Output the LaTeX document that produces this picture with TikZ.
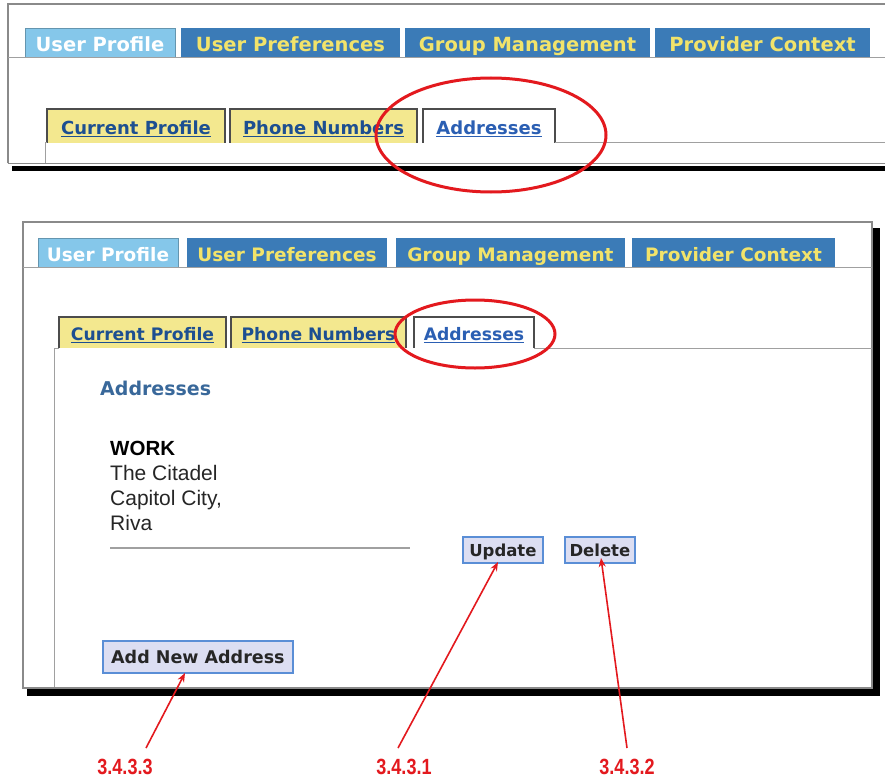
\documentclass[tikz,border=0pt]{standalone}
\usepackage{fontspec}
\setmainfont{Liberation Sans}
\newfontfamily\dv{DejaVu Sans}
\usetikzlibrary{arrows.meta}
\definecolor{tabl}{HTML}{85C7EA}
\definecolor{tabd}{HTML}{3B7BB7}
\definecolor{tabtxt}{HTML}{F2E36A}
\definecolor{subyel}{HTML}{F3E88F}
\definecolor{lnk}{HTML}{1D4F91}
\definecolor{lnktwo}{HTML}{2B5FB3}
\definecolor{headc}{HTML}{39689A}
\definecolor{btnf}{HTML}{DCDEF2}
\definecolor{btnb}{HTML}{5A8ED6}
\definecolor{redc}{HTML}{E3191E}
\definecolor{frameg}{HTML}{8A8A8A}
\definecolor{lineg}{HTML}{A0A0A0}
\tikzset{
  tabbase/.style={anchor=north west, inner sep=0pt, outer sep=0pt},
  lighttab/.style={tabbase, fill=tabl, text=white},
  darktab/.style={tabbase, fill=tabd, text=tabtxt},
  subtab/.style={tabbase, fill=subyel, text=lnk},
  curtab/.style={tabbase, fill=white, text=lnktwo},
  tabedge/.style={draw=black!70, line width=1.2pt},
  ring/.style={draw=redc, line width=3pt},
  btn/.style={anchor=north west, fill=btnf, draw=btnb, line width=1.8pt, inner sep=0pt,
     font=\dv\bfseries\fontsize{16.5}{16}\selectfont, text=black!85, text height=14pt, text depth=1.5pt},
  addr/.style={anchor=base west, inner sep=0pt, text=black!85, font=\fontsize{21}{21}\selectfont},
  lbl/.style={text=redc, font=\bfseries\fontsize{22}{22}\selectfont, inner sep=0pt},
  arr/.style={draw=redc, line width=1.6pt, -{Stealth[length=9pt,width=7pt]}}
}
\begin{document}
\begin{tikzpicture}[x=1pt,y=-1pt]
\useasboundingbox (0,0) rectangle (885,778);
\clip (0,0) rectangle (885,778);
\fill[white] (0,0) rectangle (885,778);

% ===== top panel =====
\fill[black] (12,166) rectangle (885,171);
\fill[white] (8,4) rectangle (885,163);
\draw[frameg, line width=1.5pt] (8,163.5) -- (8,4) -- (885,4);
\draw[frameg, line width=1pt] (8,163.5) -- (885,163.5);
\draw[lineg, line width=1pt] (8,57.5) -- (885,57.5);

\begin{scope}[every node/.append style={font=\dv\bfseries\fontsize{19.5}{20}\selectfont, text height=19.5pt, text depth=1pt}]
\node[lighttab, minimum width=150pt, minimum height=29pt] (ta1) at (25,28) {User Profile};
\node[darktab, minimum width=219pt, minimum height=29pt] (ta2) at (181,28) {User Preferences};
\node[darktab, minimum width=245pt, minimum height=29pt] (ta3) at (405,28) {Group Management};
\node[darktab, minimum width=215pt, minimum height=29pt] (ta4) at (655,28) {Provider Context};
\end{scope}
\draw[tabl!75!black, line width=0.8pt] (ta1.south west) |- (ta1.north east) -- (ta1.south east);

\begin{scope}[every node/.append style={font=\dv\bfseries\fontsize{18}{18}\selectfont, text height=18.5pt, text depth=2pt}]
\node[subtab, minimum width=178pt, minimum height=34pt] (sa1) at (47,109) {\underline{Current Profile}};
\node[subtab, minimum width=187pt, minimum height=34pt] (sa2) at (230,109) {\underline{Phone Numbers}};
\node[curtab, minimum width=132pt, minimum height=34pt] (sa3) at (423,109) {\underline{Addresses}};
\end{scope}
\draw[tabedge] (sa1.south west) |- (sa1.north east) -- (sa1.south east);
\draw[tabedge] (sa2.south west) |- (sa2.north east) -- (sa2.south east);
\draw[tabedge] (sa3.south west) |- (sa3.north east) -- (sa3.south east);
\draw[lineg, line width=1pt] (sa3.south east) -- (885,143);
\draw[lineg, line width=1pt] (45,163) -- (45,143) -- (sa1.south west);

\draw[ring] (491,135) ellipse [x radius=115, y radius=57];

% ===== bottom panel =====
\fill[black] (873,228) rectangle (880,696);
\fill[black] (27,689) rectangle (880,696);
\filldraw[fill=white, draw=frameg, line width=1.5pt] (23,222) rectangle (872,688);
\draw[lineg, line width=1pt] (23,267.5) -- (872,267.5);

\begin{scope}[every node/.append style={font=\dv\bfseries\fontsize{18.5}{19}\selectfont, text height=19pt, text depth=1pt}]
\node[lighttab, minimum width=140pt, minimum height=29pt] (tb1) at (38,238) {User Profile};
\node[darktab, minimum width=200pt, minimum height=29pt] (tb2) at (187,238) {User Preferences};
\node[darktab, minimum width=229pt, minimum height=29pt] (tb3) at (396,238) {Group Management};
\node[darktab, minimum width=203pt, minimum height=29pt] (tb4) at (632,238) {Provider Context};
\end{scope}
\draw[tabl!75!black, line width=0.8pt] (tb1.south west) |- (tb1.north east) -- (tb1.south east);

\begin{scope}[every node/.append style={font=\dv\bfseries\fontsize{17.2}{18}\selectfont, text height=17.5pt, text depth=2pt}]
\node[subtab, minimum width=167pt, minimum height=31pt] (sb1) at (59,317) {\underline{Current Profile}};
\node[subtab, minimum width=175pt, minimum height=31pt] (sb2) at (231,317) {\underline{Phone Numbers}};
\node[curtab, minimum width=120pt, minimum height=31pt] (sb3) at (414,317) {\underline{Addresses}};
\end{scope}
\draw[tabedge] (sb1.south west) |- (sb1.north east) -- (sb1.south east);
\draw[tabedge] (sb2.south west) |- (sb2.north east) -- (sb2.south east);
\draw[tabedge] (sb3.south west) |- (sb3.north east) -- (sb3.south east);
\draw[lineg, line width=1pt] (sb3.south east) -- (872,348);
\draw[lineg, line width=1pt] (54,687) -- (54,348) -- (sb1.south west);

\draw[ring] (475,334) ellipse [x radius=80, y radius=34];

\node[anchor=west, inner sep=0pt, text=headc, font=\dv\bfseries\fontsize{19}{19}\selectfont] (head) at (100,388) {Addresses};

\node[addr, font=\bfseries\fontsize{20.5}{20}\selectfont, text=black] (a1) at (110,455) {WORK};
\node[addr] (a2) at (110,480) {The Citadel};
\node[addr] (a3) at (110,505) {Capitol City,};
\node[addr] (a4) at (110,530) {Riva};
\draw[lineg, line width=2pt] (110,548) -- (410,548);

\node[btn, minimum width=80pt, minimum height=26pt] (upd) at (462,536) {Update};
\node[btn, minimum width=70pt, minimum height=26pt] (del) at (564,536) {Delete};
\node[btn, minimum width=190pt, minimum height=32pt, font=\dv\bfseries\fontsize{17.5}{17}\selectfont] (add) at (102,640) {Add New Address};

% ===== labels and arrows =====
\node[lbl] (l3) at (125,767) {\scalebox{0.82}[1]{3.4.3.3}};
\node[lbl] (l1) at (404,767) {\scalebox{0.82}[1]{3.4.3.1}};
\node[lbl] (l2) at (627,767) {\scalebox{0.82}[1]{3.4.3.2}};
\coordinate (s3) at (146,748);
\coordinate (e3) at (185,673);
\coordinate (s1) at (398,748);
\coordinate (e1) at (498,562);
\coordinate (s2) at (627,748);
\coordinate (e2) at (601,558);
\draw[arr] (s3) -- (e3);
\draw[arr] (s1) -- (e1);
\draw[arr] (s2) -- (e2);
\end{tikzpicture}
\end{document}
